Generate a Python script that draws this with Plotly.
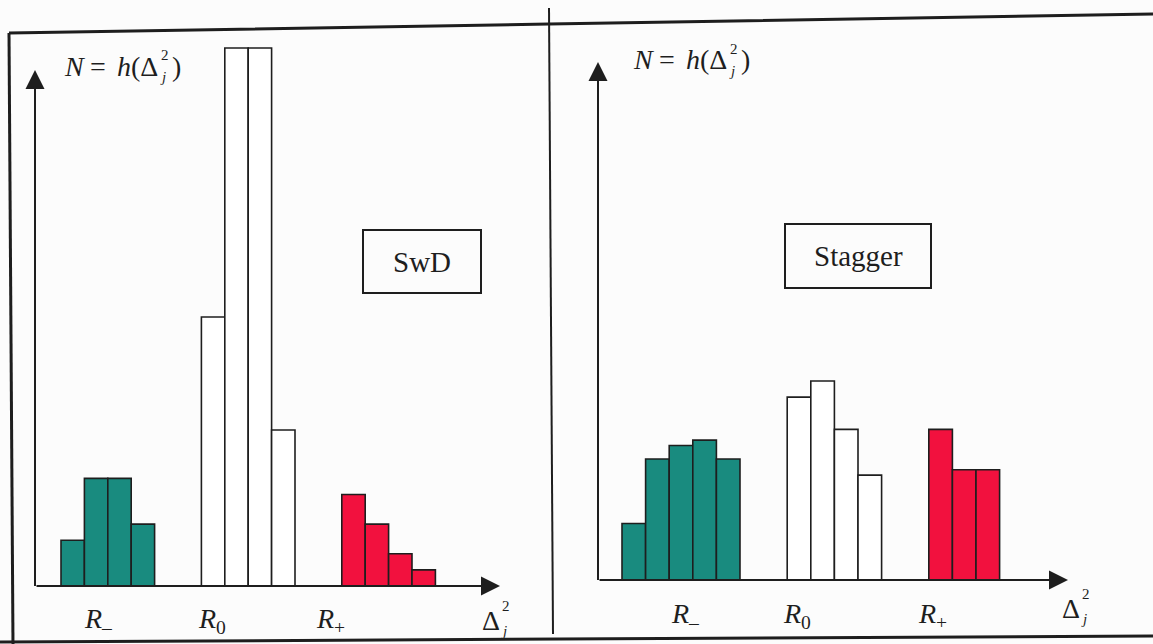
import plotly.graph_objects as go

W, H = 1153, 644

# ---------------- data (relative counts N = h(Δj²)) ----------------
# SwD panel
swd_minus = [8.5, 20, 20, 11.5]
swd_zero = [50, 100, 100, 29]
swd_plus = [17, 11.5, 6, 3]
swd_minus_bins = [0, 1, 2, 3]
swd_zero_bins = [6, 7, 8, 9]
swd_plus_bins = [12, 13, 14, 15]

# Stagger panel
stg_minus = [10.5, 22.5, 25, 26, 22.5]
stg_zero = [34, 37, 28, 19.5]
stg_plus = [28, 20.5, 20.5]
stg_minus_bins = [0, 1, 2, 3, 4]
stg_zero_bins = [7, 8, 9, 10]
stg_plus_bins = [13, 14, 15]

group_labels = ["<i>R</i><sub>–</sub>", "<i>R</i><sub>0</sub>", "<i>R</i><sub>+</sub>"]
panel_names = ["SwD", "Stagger"]

# ---------------- styles ----------------
TEAL = "#198b7f"
RED = "#f2113e"
WHITE = "#ffffff"
INK = "#1e1e1e"
BG = "#fcfcfc"
FONT = "Liberation Serif"


def px(x):
    return x / W


def py(y):
    return 1 - y / H


fig = go.Figure()


def add_bars(bins, vals, color, xa, ya):
    fig.add_trace(go.Bar(
        x=[b + 0.5 for b in bins], y=vals, width=1,
        marker=dict(color=color, line=dict(color=INK, width=1.6)),
        xaxis=xa, yaxis=ya, showlegend=False, hoverinfo="skip",
        cliponaxis=False,
    ))


add_bars(swd_minus_bins, swd_minus, TEAL, "x", "y")
add_bars(swd_zero_bins, swd_zero, WHITE, "x", "y")
add_bars(swd_plus_bins, swd_plus, RED, "x", "y")
add_bars(stg_minus_bins, stg_minus, TEAL, "x2", "y2")
add_bars(stg_zero_bins, stg_zero, WHITE, "x2", "y2")
add_bars(stg_plus_bins, stg_plus, RED, "x2", "y2")

# panel geometry (pixel origin of bin 0, pixel width of one bin, px per unit)
L_X0, L_BW, L_BASE = 61, 23.4, 586
R_X0, R_BW, R_BASE = 622, 23.6, 580
UNIT = 5.38

ax_common = dict(visible=False, fixedrange=True)
fig.update_layout(
    width=W, height=H,
    margin=dict(l=0, r=0, t=0, b=0),
    paper_bgcolor=BG, plot_bgcolor=BG,
    barmode="overlay",
    xaxis=dict(domain=[0, px(549)], range=[(0 - L_X0) / L_BW, (549 - L_X0) / L_BW], **ax_common),
    yaxis=dict(domain=[py(L_BASE), 1], range=[0, L_BASE / UNIT], **ax_common),
    xaxis2=dict(domain=[px(553), 1], range=[(553 - R_X0) / R_BW, (W - R_X0) / R_BW], anchor="y2", **ax_common),
    yaxis2=dict(domain=[py(R_BASE), 1], range=[0, R_BASE / UNIT], anchor="x2", **ax_common),
)

annotations = []


def arrow(xa, ya, x0, y0, x1, y1):
    annotations.append(dict(
        x=x1, y=y1, ax=x0, ay=y0, xref=xa, yref=ya, axref=xa, ayref=ya,
        text="", showarrow=True, arrowhead=2, arrowsize=1.9, arrowwidth=2,
        arrowcolor=INK, standoff=0, startstandoff=0,
    ))


# axes with arrows (left panel)
lyx = (35 - L_X0) / L_BW
arrow("x", "y", lyx, -0.3, lyx, (L_BASE - 70) / UNIT)
arrow("x", "y", lyx, 0, (500 - L_X0) / L_BW, 0)
# axes with arrows (right panel)
ryx = (598 - R_X0) / R_BW
arrow("x2", "y2", ryx, -0.3, ryx, (R_BASE - 62) / UNIT)
arrow("x2", "y2", ryx, 0, (1068 - R_X0) / R_BW, 0)


def text(x, y, s, size=28, xanchor="left", yanchor="middle"):
    annotations.append(dict(
        x=px(x), y=py(y), xref="paper", yref="paper", text=s, showarrow=False,
        xanchor=xanchor, yanchor=yanchor,
        font=dict(family=FONT, size=size, color=INK),
    ))


def ylabel(x, y):
    # N = h(Δ_j^2) with stacked sub/superscript
    text(x, y, "<i>N</i>")
    text(x + 26, y, "=")
    text(x + 53, y, "<i>h</i>(Δ")
    text(x + 97, y - 11, "2", size=15)
    text(x + 96, y + 11, "<i>j</i>", size=15)
    text(x + 108, y, ")")


def xlabel(x, y):
    # Δ_j^2 at the end of the horizontal axis
    text(x, y, "Δ")
    text(x + 20, y - 14, "2", size=15)
    text(x + 19, y + 11, "<i>j</i>", size=15)


ylabel(62, 66)
ylabel(631, 60)
xlabel(480, 620)
xlabel(1060, 608)

# group labels
for xpos, lab in zip([82, 196, 314], group_labels):
    text(xpos, 620, lab)
for xpos, lab in zip([669, 781, 916], group_labels):
    text(xpos, 615, lab)

# boxed panel names
text(422, 262, panel_names[0], size=29, xanchor="center")
text(858, 256, panel_names[1], size=29, xanchor="center")

fig.update_layout(annotations=annotations)

shapes = []


def rect(x0, y0, x1, y1, w=2):
    shapes.append(dict(type="rect", xref="paper", yref="paper",
                       x0=px(x0), y0=py(y0), x1=px(x1), y1=py(y1),
                       line=dict(color=INK, width=w), fillcolor="rgba(0,0,0,0)"))


def path(points, w=3):
    d = "M " + " L ".join(f"{px(x):.5f},{py(y):.5f}" for x, y in points)
    shapes.append(dict(type="path", xref="paper", yref="paper", path=d,
                       line=dict(color=INK, width=w)))


rect(363, 230, 481, 293)
rect(785, 224, 931, 288)
# scanned frame
path([(9, 33), (549, 24), (1153, 14)], w=3)
path([(9, 33), (13, 644)], w=3)
path([(549, 8), (553, 634)], w=2)
path([(0, 642), (1153, 636)], w=3)

fig.update_layout(shapes=shapes)

fig.write_html("out.html")
